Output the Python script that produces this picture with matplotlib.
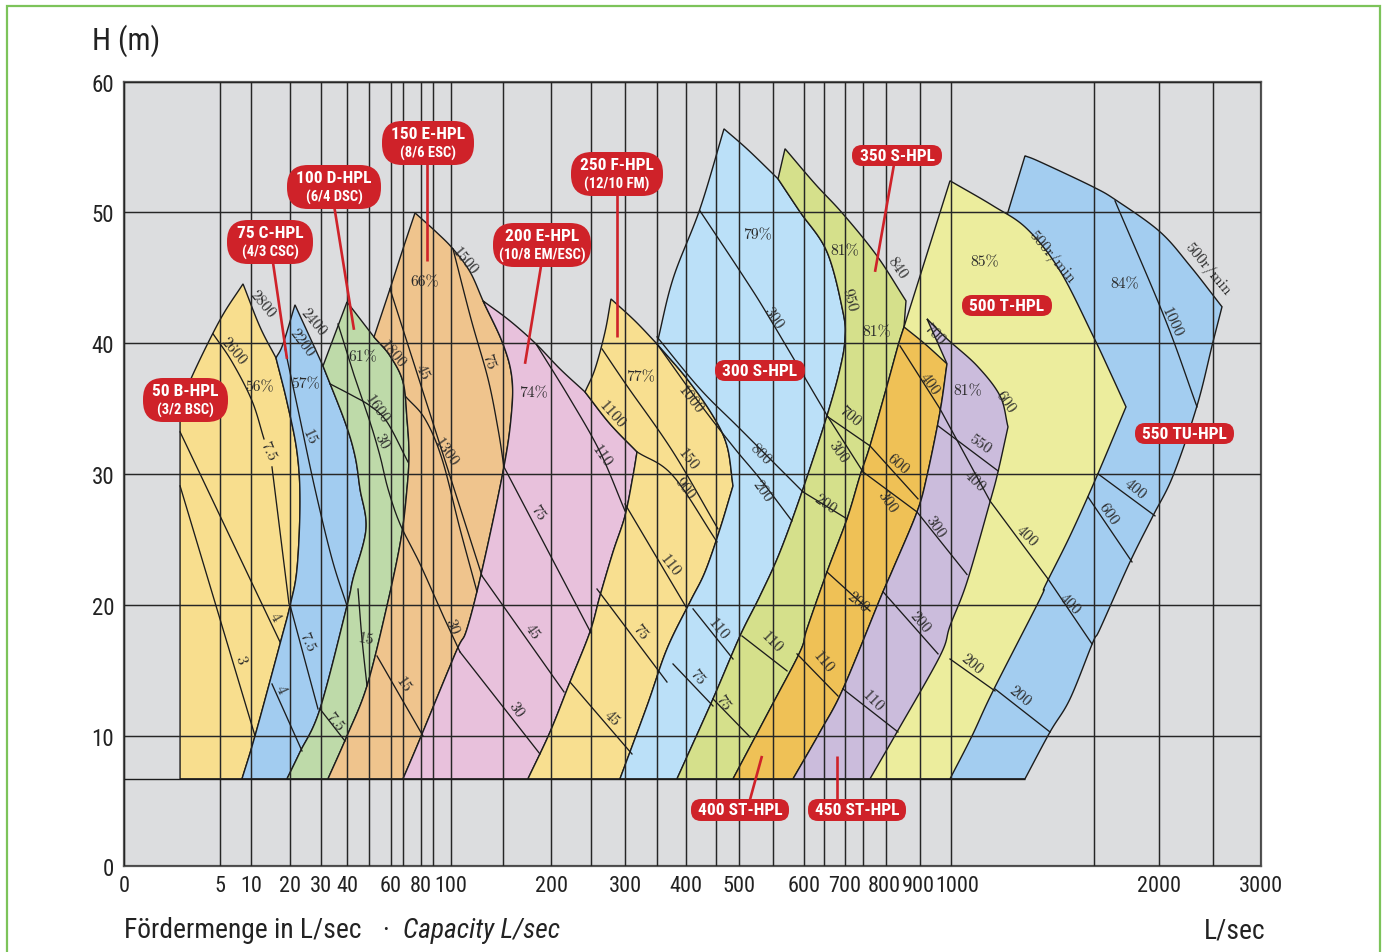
import numpy as np
import matplotlib
matplotlib.use("Agg")
import matplotlib.pyplot as plt
from matplotlib import font_manager
from matplotlib.font_manager import FontProperties
from matplotlib.patches import Polygon, Rectangle
from matplotlib.offsetbox import TextArea, VPacker, AnnotationBbox
from matplotlib.transforms import ScaledTranslation


def font_available(name):
    try:
        font_manager.findfont(FontProperties(family=name), fallback_to_default=False)
        return True
    except ValueError:
        return False


NARROW_FAMILIES = ("Liberation Sans Narrow", "Roboto Condensed", "DejaVu Sans Condensed")
SANS = next((f for f in NARROW_FAMILIES if font_available(f)), None)
X_TICK_SIZE = 16 if SANS else 14.5
if SANS is None:
    SANS = "Roboto" if font_available("Roboto") else "DejaVu Sans"
SERIF = "cmr10"

# ---------------------------------------------------------------------------
# Flow axis: the printed grid is hand spaced, every grid value has its own offset
AXIS_Q = [0, 5, 10, 20, 30, 40, 50, 60, 70, 80, 90, 100, 150, 200, 250, 300, 350, 400,
          450, 500, 550, 600, 650, 700, 750, 800, 900, 1000, 1500, 2000, 2500, 3000]
AXIS_OFFSET = [0, 96, 127, 166, 197, 223, 245, 267, 279, 297, 309, 327, 379, 427, 467, 501,
               533, 562, 592, 615, 649, 680, 700, 721, 739, 762, 796, 827, 970, 1035, 1089, 1137]
Q_TICKS = [0, 5, 10, 20, 30, 40, 60, 80, 100, 200, 300, 400, 500, 600, 700, 800, 900, 1000, 2000, 3000]
H_TICKS = [0, 10, 20, 30, 40, 50, 60]
H_FLOOR = 6.7          # lowest head of every pump range (m)
Q_FLOOR_END = 1258.7   # floor line runs up to the right end of the 550 range

# ---------------------------------------------------------------------------
# Pump ranges (Q in L/s, H in m). Boundaries shared by two ranges are kept once.
BC_EDGE = [(8.55, 6.7), (11.03, 9.98), (17.44, 17.01), (20.0, 19.92), (22.26, 22.74),
           (23.23, 27.87), (22.26, 31.69), (19.23, 35.51), (16.41, 38.87)]
CD_EDGE = [(19.23, 6.7), (23.23, 8.75), (29.68, 12.04), (40.0, 19.92), (42.73, 21.98),
           (48.64, 25.80), (45.91, 28.86), (43.64, 31.38), (39.23, 33.98), (30.77, 38.26)]
DE_EDGE = [(32.69, 6.7), (40.0, 9.98), (49.09, 13.80), (58.18, 19.92), (68.33, 25.04),
           (72.22, 28.86), (73.33, 31.54), (72.22, 34.21), (70.0, 37.04), (59.55, 39.03),
           (52.27, 40.47)]
EP_EDGE = [(70.0, 6.7), (79.44, 9.75), (104.8, 16.40), (115.4, 18.16), (130.8, 22.97),
           (150.0, 30.16), (158.3, 34.21), (159.4, 37.27), (150.0, 39.94), (130.8, 43.23)]
PINK_TOP_A = [(130.8, 43.23), (157.3, 41.70), (184.4, 39.94), (211.3, 38.03), (242.5, 36.27)]
PINK_TOP_B = [(242.5, 36.27), (277.9, 33.83), (318.8, 31.69)]
PF_EDGE = [(176.0, 6.7), (199.0, 10.28), (223.75, 14.10), (248.75, 17.93), (263.2, 20.68),
           (282.4, 24.04), (300.0, 26.80), (312.5, 29.86), (318.8, 31.69)]
FS_UPPER = [(350.0, 39.94), (401.7, 37.27), (445.0, 34.44), (473.9, 32.15), (487.0, 29.09)]
FS_LOWER = [(487.0, 29.09), (458.7, 25.80), (431.7, 22.51), (406.7, 20.22), (367.2, 16.63),
            (334.4, 12.27), (292.6, 6.7)]
SG_EDGE = [(384.5, 6.7), (445.0, 12.81), (501.5, 17.62), (530.9, 20.68), (561.3, 24.04),
           (598.4, 28.86), (657.1, 34.44), (688.1, 38.03), (700.0, 40.33), (695.2, 42.39),
           (657.1, 46.98), (593.5, 50.04), (558.1, 52.56)]
GO_EDGE = [(487.0, 6.7), (545.6, 12.04), (593.5, 16.40), (607.5, 18.16), (657.1, 22.51),
           (705.6, 26.57), (741.7, 29.86), (765.2, 32.15), (802.9, 36.73), (835.3, 39.79),
           (852.9, 41.24)]
OP_EDGE = [(582.3, 6.7), (640.0, 10.28), (695.2, 13.57), (787.0, 20.45), (820.6, 22.74),
           (891.2, 27.10), (922.6, 29.86), (964.5, 34.74), (987.1, 38.42)]

B_HPL = [[(8.55, 6.7), (2.92, 6.7)], [(2.92, 6.7), (2.92, 34.98)],
         [(2.92, 34.98), (3.53, 37.42), (5.0, 41.78), (8.71, 44.53)],
         [(8.71, 44.53), (12.31, 41.24), (16.41, 38.87)], BC_EDGE[::-1]]
C_HPL = [[(19.23, 6.7), (8.55, 6.7)], BC_EDGE,
         [(16.41, 38.87), (18.21, 39.94), (21.61, 42.93)],
         [(21.61, 42.93), (30.77, 38.26)], CD_EDGE[::-1]]
D_HPL = [[(32.69, 6.7), (19.23, 6.7)], CD_EDGE, [(30.77, 38.26), (40.0, 43.15)],
         [(40.0, 43.15), (45.91, 41.86), (52.27, 40.47)], DE_EDGE[::-1]]
E150_HPL = [[(70.0, 6.7), (32.69, 6.7)], DE_EDGE,
            [(52.27, 40.47), (59.55, 44.15), (70.0, 47.21), (76.67, 49.96)],
            [(76.67, 49.96), (91.67, 48.51), (101.9, 47.21), (118.3, 45.45), (130.8, 43.23)],
            EP_EDGE[::-1]]
E200_HPL = [[(176.0, 6.7), (70.0, 6.7)], EP_EDGE, PINK_TOP_A, PINK_TOP_B, PF_EDGE[::-1]]
F_HPL = [[(292.6, 6.7), (176.0, 6.7)], PF_EDGE, PINK_TOP_B[::-1],
         [(242.5, 36.27), (255.9, 38.03), (270.6, 40.86), (279.4, 43.38)],
         [(279.4, 43.38), (315.6, 41.70), (350.0, 39.94)], FS_UPPER, FS_LOWER]
S300_HPL = [[(384.5, 6.7), (292.6, 6.7)], FS_LOWER[::-1], FS_UPPER[::-1],
            [(350.0, 39.94), (377.6, 44.92), (423.3, 50.27), (467.4, 56.38)],
            [(467.4, 56.38), (513.2, 54.78), (558.1, 52.56)], SG_EDGE[::-1]]
S350_HPL = [[(487.0, 6.7), (384.5, 6.7)], SG_EDGE, [(558.1, 52.56), (569.4, 54.86)],
            [(569.4, 54.86), (627.5, 52.18), (695.2, 49.88), (780.4, 46.67), (858.8, 43.23)],
            [(858.8, 43.23), (852.9, 41.24)], GO_EDGE[::-1]]
TU550_HPL = [[(1258.7, 6.7), (996.8, 6.7)], [(996.8, 6.7), (1188.8, 49.27)],
             [(1188.8, 49.27), (1258.7, 54.32)],
             [(1258.7, 54.32), (1311.2, 53.86), (1496.5, 51.95), (1676.9, 50.88), (2009.3, 48.51),
              (2287.0, 45.91), (2593.75, 42.78)],
             [(2593.75, 42.78), (2500.0, 40.10)],
             [(2500.0, 40.10), (2351.9, 35.21), (2129.6, 29.86), (1953.8, 26.80), (1776.9, 23.28),
              (1546.2, 18.16), (1496.5, 17.16), (1416.1, 12.81), (1346.2, 10.28), (1258.7, 6.7)]]
T500_HPL = [[(996.8, 6.7), (664.3, 6.7)],
            [(664.3, 6.7), (713.9, 20.45), (787.0, 31.92), (852.9, 41.24)],
            [(852.9, 41.24), (996.8, 52.41)],
            [(996.8, 52.41), (1146.9, 50.50), (1265.7, 48.74), (1381.1, 45.53), (1496.5, 40.56),
             (1623.1, 37.80), (1746.2, 35.13)],
            [(1746.2, 35.13), (1523.1, 29.86), (1416.1, 25.27), (1328.7, 21.44), (1311.2, 20.45),
             (1146.9, 13.42), (1073.4, 9.98), (996.8, 6.7)]]
ST400_HPL = [[(582.3, 6.7), (487.0, 6.7)], GO_EDGE,
             [(852.9, 41.24), (916.1, 39.94), (987.1, 38.42)], OP_EDGE[::-1]]
ST450_HPL = [[(765.2, 6.7), (582.3, 6.7)], OP_EDGE, [(987.1, 38.42), (922.6, 41.86)],
             [(922.6, 41.86), (987.1, 40.33), (1090.9, 38.27), (1171.3, 35.97), (1199.3, 33.60)],
             [(1199.3, 33.60), (1164.3, 30.16), (1136.4, 27.87), (1055.9, 21.75), (996.8, 18.39),
              (964.5, 16.09), (832.4, 10.28), (765.2, 6.7)]]

RANGES = [
    (B_HPL, "#f8de8e"), (C_HPL, "#a2ccf0"), (D_HPL, "#bedaa9"), (E150_HPL, "#efc48d"),
    (E200_HPL, "#e8c1dc"), (F_HPL, "#f8df90"), (S300_HPL, "#bbe0f8"), (S350_HPL, "#d5e08b"),
    (TU550_HPL, "#a3cdf0"), (T500_HPL, "#eced9d"), (ST400_HPL, "#efc156"), (ST450_HPL, "#cbbcdc"),
]

# ---------------------------------------------------------------------------
# Speed (rpm) and power (kW) curves inside the ranges
CURVES = [
    [(4.64, 40.71), (6.94, 38.57), (10.26, 35.59), (13.33, 32.68)],          # 50: 2600 rpm
    [(15.38, 30.54), (19.74, 20.07)],                                         # 50: 7.5 kW
    [(2.92, 33.22), (17.44, 17.16)],                                          # 50: 4 kW
    [(2.92, 29.09), (11.03, 9.98)],                                           # 50: 3 kW
    [(18.72, 39.56), (23.23, 34.21), (28.06, 28.86), (34.23, 23.51), (40.0, 19.92)],  # 75: 15 kW
    [(20.0, 19.99), (29.03, 12.04)],                                          # 75: 7.5 kW
    [(15.38, 13.95), (23.87, 8.83)],                                          # 75: 4 kW
    [(33.46, 36.89), (42.73, 35.97), (50.45, 35.21), (58.18, 33.98), (72.78, 30.92)],  # 100: 1600 rpm
    [(36.54, 41.47), (42.73, 37.80), (50.45, 33.98), (55.0, 31.38), (58.64, 28.86),
     (67.5, 26.18), (79.44, 23.13), (93.89, 19.69), (108.65, 16.40)],        # 30 kW
    [(108.65, 16.40), (188.5, 8.60)],
    [(45.0, 21.21), (46.82, 17.39), (49.09, 13.80)],                          # 100: 15 kW
    [(29.68, 12.04), (39.23, 9.59)],                                          # 100: 7.5 kW
    [(53.64, 16.09), (81.67, 9.98)],                                          # 150: 15 kW
    [(101.9, 47.21), (119.2, 41.86), (135.6, 37.27), (145.2, 33.45), (151.0, 30.54)],  # 75 kW
    [(151.0, 30.54), (250.0, 17.85)],
    [(59.55, 44.15), (129.8, 22.21)],                                         # 45 kW
    [(129.8, 22.21), (216.3, 13.34)],
    [(71.67, 35.89), (83.33, 34.21), (95.0, 31.15), (108.65, 25.80), (125.0, 21.0)],  # 150: 1300 rpm
    [(184.4, 39.94), (223.75, 35.74), (263.2, 31.69), (300.0, 27.18)],       # 200: 110 kW
    [(223.75, 14.10), (310.9, 8.60)],                                         # 250: 45 kW
    [(266.2, 39.56), (303.1, 36.74), (377.6, 31.69), (454.3, 25.80)],         # 250: 150 kW
    [(318.8, 31.69), (377.6, 29.86), (452.2, 24.81)],                         # 250: 900 rpm
    [(300.0, 27.71), (400.0, 19.84)],                                         # 250: 110 kW
    [(258.8, 21.21), (367.2, 14.10)],                                         # 250: 75 kW
    [(423.3, 50.11), (508.8, 44.92), (545.6, 41.86), (659.5, 34.36)],         # 300: 300
    [(350.0, 40.48), (423.3, 36.51), (501.5, 33.45), (598.4, 28.63)],         # 300: 800
    [(350.0, 39.94), (423.3, 35.36), (491.3, 31.92), (530.9, 29.63), (580.6, 26.41)],  # 300: 200
    [(411.7, 19.69), (487.0, 15.86)],                                         # 300: 110 kW
    [(377.6, 15.48), (445.0, 12.27)],                                         # 300: 75 kW
    [(659.5, 34.36), (765.2, 32.15)],                                         # 350: 700
    [(659.5, 34.36), (750.0, 30.16)],                                         # 350: 300
    [(598.4, 28.63), (705.6, 26.57)],                                         # 350: 200
    [(504.4, 17.62), (572.6, 14.95)],                                         # 350: 110 kW
    [(445.0, 12.81), (516.2, 9.90)],                                          # 350: 75 kW
    [(765.2, 32.15), (894.1, 28.10)],                                         # 400: 600
    [(750.0, 30.16), (891.2, 27.10)],                                         # 400: 300
    [(891.2, 27.10), (1055.9, 22.32)],                                        # 450: 300
    [(657.1, 22.51), (765.2, 19.53)],                                         # 400: 200
    [(588.7, 16.25), (683.3, 13.03)],                                         # 400: 110 kW
    [(841.2, 39.79), (964.5, 34.98)],                                         # 400 kW line
    [(964.5, 34.98), (1136.4, 27.94)],
    [(1136.4, 27.94), (1339.2, 21.98)],
    [(1339.2, 21.98), (1493.0, 17.01)],
    [(958.1, 33.68), (1164.3, 30.24)],                                        # 450: 550
    [(793.5, 21.0), (958.1, 16.25)],                                          # 450: 200
    [(695.2, 13.57), (835.3, 10.28)],                                         # 450: 110 kW
    [(996.8, 15.86), (1153.8, 13.42)],                                        # 500: 200
    [(1661.5, 50.88), (2055.6, 41.86), (2351.9, 35.13)],                      # 550: 1000
    [(1530.8, 30.01), (1969.2, 26.80)],                                       # 550: 400
    [(1479.0, 28.25), (1792.3, 23.28)],                                       # 550: 600
    [(1153.8, 13.57), (1346.2, 10.28)],                                       # 550: 200
]

# curve annotations: text, Q, H, angle
CURVE_LABELS = [
    ("2800", 12.82, 43.0, -50), ("2600", 7.10, 39.41, -50), ("56%", 12.31, 36.66, 0),
    ("7.5", 14.36, 31.77, -65), ("4", 16.15, 19.15, -60), ("3", 8.23, 15.86, -70),
    ("2400", 27.42, 41.63, -50), ("2200", 23.87, 40.10, -53), ("57%", 25.16, 36.89, 0),
    ("15", 26.13, 32.84, -65), ("7.5", 25.48, 17.24, -65), ("4", 17.69, 13.57, -65),
    ("61%", 47.27, 38.95, 0), ("1800", 61.67, 39.18, -50), ("1600", 53.64, 34.98, -55),
    ("30", 55.91, 32.53, -60), ("15", 48.64, 17.39, -10), ("7.5", 35.0, 11.12, -50),
    ("66%", 83.33, 44.68, 0), ("1500", 113.5, 46.28, -50), ("45", 80.83, 37.88, -65),
    ("75", 135.6, 38.64, -70), ("1300", 97.22, 31.69, -55), ("30", 100.96, 18.39, -70),
    ("15", 70.0, 13.95, -55), ("74%", 181.25, 36.2, 0), ("110", 266.2, 31.38, -55),
    ("75", 186.5, 27.10, -55), ("45", 180.2, 18.0, -55), ("30", 163.5, 12.04, -55),
    ("77%", 325.0, 37.42, 0), ("1100", 280.9, 34.59, -48), ("1000", 406.7, 35.74, -52),
    ("150", 403.3, 31.15, -52), ("900", 398.3, 28.94, -52), ("110", 371.6, 23.03, -52),
    ("75", 323.4, 17.93, -50), ("45", 280.9, 11.35, -45), ("79%", 526.5, 48.28, 0),
    ("300", 550.0, 42.0, -55), ("800", 530.9, 31.54, -45), ("200", 534.0, 28.71, -55),
    ("110", 454.3, 18.16, -50), ("75", 418.3, 14.49, -50), ("81%", 700.0, 47.06, 0),
    ("950", 711.1, 43.38, -75), ("840", 832.4, 45.83, -55), ("81%", 780.4, 40.86, 0),
    ("700", 713.9, 34.44, -40), ("300", 683.3, 31.69, -55), ("200", 652.4, 27.71, -35),
    ("110", 548.5, 17.16, -45), ("75", 465.2, 12.58, -55), ("400", 932.3, 36.89, -55),
    ("600", 835.3, 30.77, -40), ("300", 802.9, 27.94, -55), ("200", 736.1, 20.22, -40),
    ("110", 647.5, 15.63, -50), ("81%", 1059.4, 36.35, 0), ("700", 945.2, 40.71, -45),
    ("600", 1188.8, 35.51, -55), ("550", 1101.4, 32.3, -35), ("400", 1083.9, 29.47, -45),
    ("300", 948.4, 26.03, -55), ("200", 900.0, 18.69, -50), ("110", 771.7, 12.66, -45),
    ("85%", 1118.9, 46.21, 0), ("500r/min", 1353.1, 46.6, -50), ("400", 1265.7, 25.27, -45),
    ("200", 1073.4, 15.48, -40), ("84%", 1738.5, 44.53, 0), ("500r/min", 2453.7, 45.68, -50),
    ("1000", 2120.4, 41.63, -65), ("400", 1815.4, 28.86, -40), ("600", 1607.7, 26.95, -55),
    ("400", 1416.1, 20.07, -45), ("200", 1241.3, 13.04, -40),
]

# model badges: name, casing, badge centre (Q, H)
BADGES = [
    ("50 B-HPL", "(3/2 BSC)", (3.18, 35.66)),
    ("75 C-HPL", "(4/3 CSC)", (14.87, 47.74)),
    ("100 D-HPL", "(6/4 DSC)", (35.0, 51.95)),
    ("150 E-HPL", "(8/6 ESC)", (85.83, 55.31)),
    ("200 E-HPL", "(10/8 EM/ESC)", (190.6, 47.51)),
    ("250 F-HPL", "(12/10 FM)", (288.2, 52.94)),
    ("300 S-HPL", None, (530.9, 37.88)),
    ("350 S-HPL", None, (832.4, 54.32)),
    ("400 ST-HPL", None, (501.5, 4.32)),
    ("450 ST-HPL", None, (733.3, 4.32)),
    ("500 T-HPL", None, (1195.8, 42.85)),
    ("550 TU-HPL", None, (2231.5, 33.07)),
]
# leader lines from a badge into its range
LEADERS = [
    [(15.13, 47.2), (19.23, 38.80)],
    [(34.62, 51.03), (43.18, 41.02)],
    [(85.0, 54.85), (85.0, 46.28)],
    [(191.7, 46.83), (172.9, 38.42)],
    [(288.2, 52.18), (288.2, 40.48)],
    [(826.5, 54.09), (776.1, 45.45)],
    [(513.2, 4.55), (533.8, 8.45)],
    [(681.0, 4.55), (681.0, 8.45)],
]

RED = "#cf2229"
INK = "#1c1c1c"


def to_axis(q):
    return np.interp(q, AXIS_Q, AXIS_OFFSET)


def from_axis(u):
    return np.interp(u, AXIS_OFFSET, AXIS_Q)


def trace(points, n=16):
    """Straight (2 points) or Catmull-Rom (3+ points) path, smooth on the printed axis."""
    pts = np.asarray(points, float)
    P = np.column_stack([to_axis(pts[:, 0]), pts[:, 1]])
    if len(P) == 2:
        t = np.linspace(0, 1, n)[:, None]
        S = P[0] * (1 - t) + P[1] * t
    else:
        E = np.vstack([2 * P[0] - P[1], P, 2 * P[-1] - P[-2]])
        t = np.linspace(0, 1, n, endpoint=False)[:, None]
        segs = []
        for i in range(1, len(E) - 2):
            p0, p1, p2, p3 = E[i - 1], E[i], E[i + 1], E[i + 2]
            segs.append(0.5 * (2 * p1 + (p2 - p0) * t
                               + (2 * p0 - 5 * p1 + 4 * p2 - p3) * t ** 2
                               + (3 * p1 - p0 - 3 * p2 + p3) * t ** 3))
        segs.append(P[-1:])
        S = np.vstack(segs)
    return np.column_stack([from_axis(S[:, 0]), S[:, 1]])


def outline(pieces):
    return np.vstack([trace(p) for p in pieces])


fig = plt.figure(figsize=(13.83, 9.53), dpi=100)
ax = fig.add_axes([0.08966, 0.08972, 0.82213, 0.82371])
ax.set_xscale("function", functions=(to_axis, from_axis))
ax.set_xlim(0, 3000)
ax.set_ylim(0, 60)
ax.set_facecolor("#dcdddf")

for pieces, colour in RANGES:
    ax.add_patch(Polygon(outline(pieces), closed=True, facecolor=colour,
                         edgecolor=INK, linewidth=1.0, zorder=1))

for pts in CURVES:
    xy = trace(pts)
    ax.plot(xy[:, 0], xy[:, 1], color=INK, linewidth=0.95, zorder=3)

ax.hlines(H_FLOOR, 0, Q_FLOOR_END, color=INK, linewidth=1.0, zorder=2.6)

for text, q, h, ang in CURVE_LABELS:
    ax.text(q, h, text, rotation=ang, rotation_mode="anchor", ha="center", va="center",
            fontsize=11.3, family=SERIF, color="#2a2a2a", zorder=4)

# grid and tick labels
ax.set_xticks(Q_TICKS)
ax.set_xticklabels([str(v) for v in Q_TICKS])
ax.set_xticks([q for q in AXIS_Q if q not in Q_TICKS], minor=True)
ax.set_yticks(H_TICKS)
ax.tick_params(which="both", length=0)
ax.tick_params(axis="x", pad=6, labelsize=X_TICK_SIZE, colors="#222222")
ax.tick_params(axis="y", pad=7, labelsize=16.5, colors="#222222")
for lab in ax.get_xticklabels() + ax.get_yticklabels():
    lab.set_family(SANS)
# the crowded 800/900/1000 labels are nudged apart as in the printed sheet
nudges = {800: -2, 900: -2, 1000: 6}
for q, lab in zip(Q_TICKS, ax.get_xticklabels()):
    if q in nudges:
        lab.set_transform(lab.get_transform()
                          + ScaledTranslation(nudges[q] / 100, 0, fig.dpi_scale_trans))
ax.set_axisbelow(False)
ax.grid(True, which="both", axis="x", color="#262626", linewidth=1.05)
ax.grid(True, which="major", axis="y", color="#262626", linewidth=1.05)
for sp in ax.spines.values():
    sp.set_color("#555555")
    sp.set_linewidth(1.6)

# badges
for (q0, h0), (q1, h1) in LEADERS:
    xy = trace([(q0, h0), (q1, h1)])
    ax.plot(xy[:, 0], xy[:, 1], color=RED, linewidth=1.9, zorder=5, solid_capstyle="butt")

for title, sub, (bq, bh) in BADGES:
    parts = [TextArea(" " + title + " ", textprops=dict(color="white", fontsize=12.5,
                                                        fontweight="bold", family=SANS))]
    if sub:
        parts.append(TextArea(sub, textprops=dict(color="white", fontsize=10.5,
                                                  fontweight="bold", family=SANS)))
        style = "round,pad=0.38,rounding_size=1.5"
    else:
        style = "round,pad=0.22,rounding_size=0.72"
    box = VPacker(children=parts, align="center", pad=0, sep=2.5)
    ab = AnnotationBbox(box, (bq, bh), xycoords="data", frameon=True, fontsize=10,
                        bboxprops=dict(boxstyle=style, facecolor=RED, edgecolor="none"),
                        zorder=6)
    ax.add_artist(ab)

# axis titles
fig.text(92 / 1383, 1 - 41 / 953, "H (m)", ha="left", va="center", fontsize=22,
         family=SANS, color="#222222")
fig.text(124 / 1383, 1 - 931 / 953, "Fördermenge in L/sec", ha="left", va="center",
         fontsize=19.8, family=SANS, color="#222222")
fig.text(386 / 1383, 1 - 931 / 953, "·", ha="center", va="center", fontsize=19.8,
         family=SANS, color="#222222")
fig.text(403 / 1383, 1 - 931 / 953, "Capacity L/sec", ha="left", va="center",
         fontsize=19.8, family=SANS, style="italic", color="#222222")
fig.text(1265 / 1383, 1 - 931 / 953, "L/sec", ha="right", va="center", fontsize=19.8,
         family=SANS, color="#222222")

fig.add_artist(Rectangle((7 / 1383, -0.05), 1373 / 1383, 1.05 - 7 / 953,
                         transform=fig.transFigure, fill=False, edgecolor="#7cc35a",
                         linewidth=1.6))

fig.savefig("out.png", dpi=100)
